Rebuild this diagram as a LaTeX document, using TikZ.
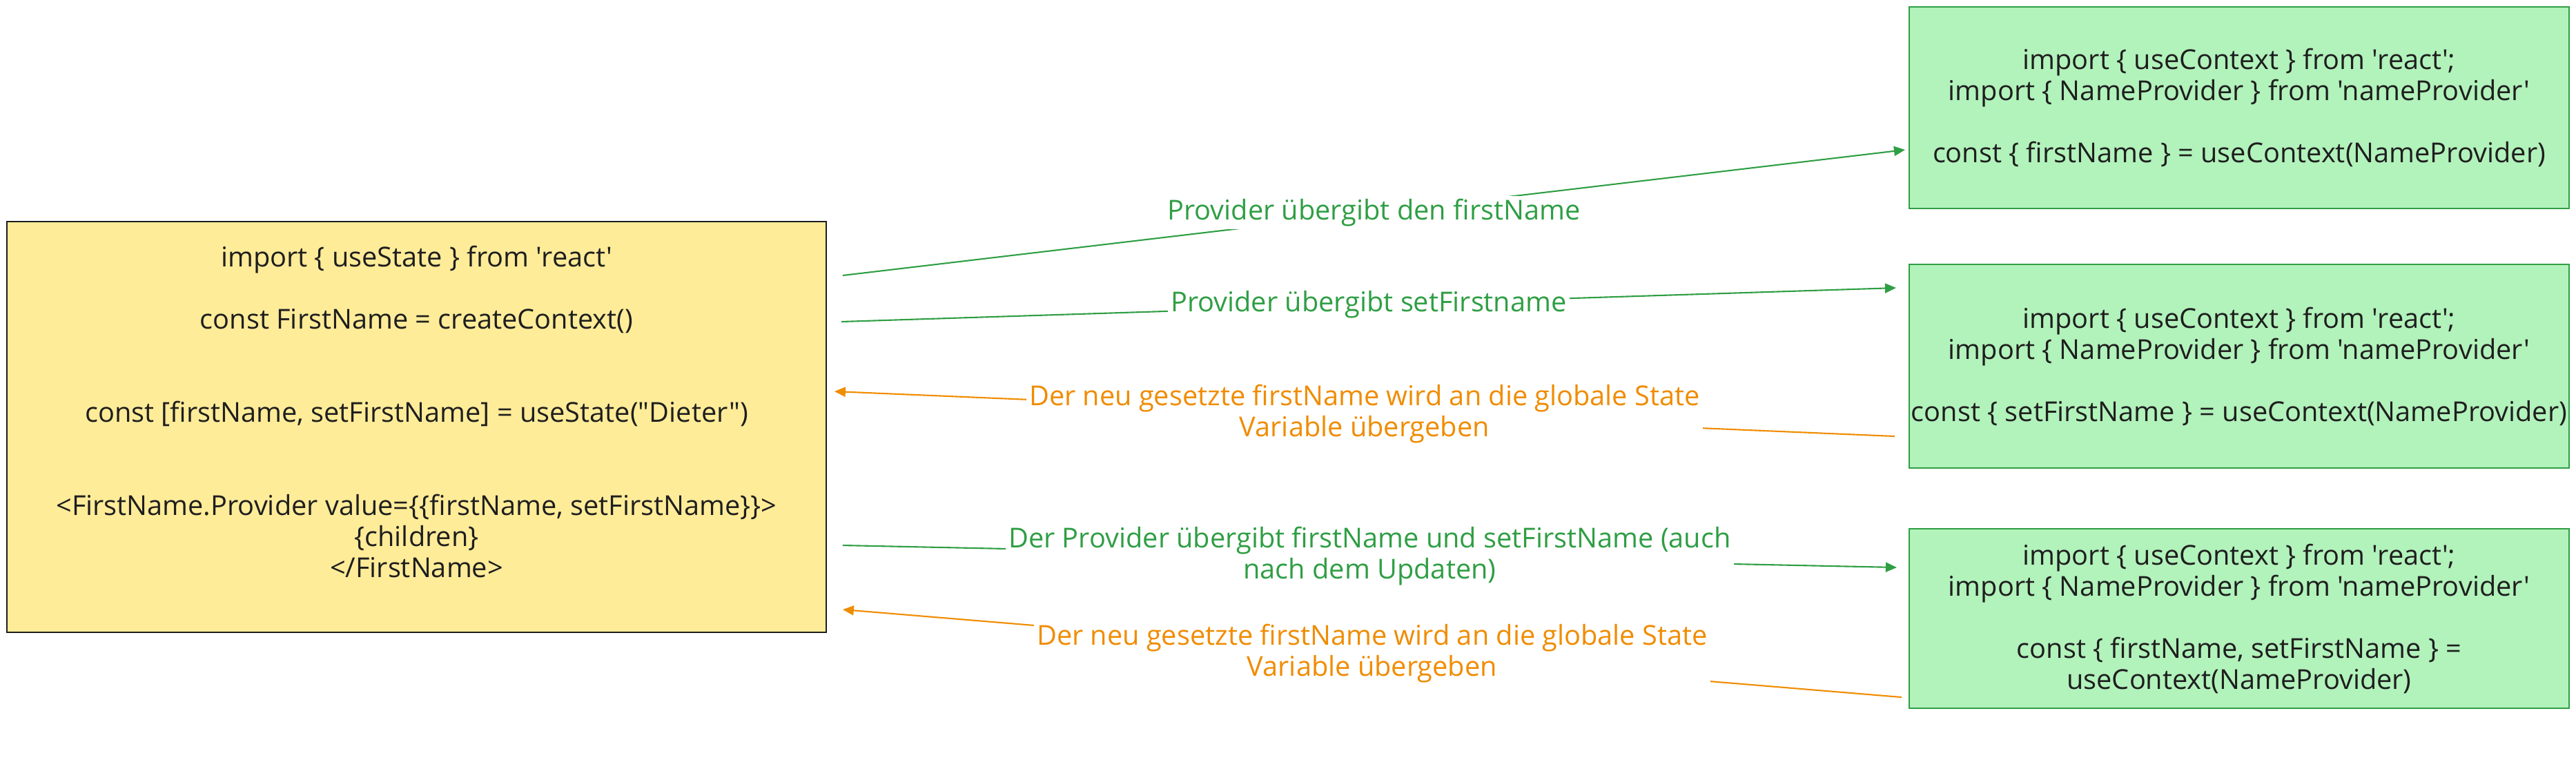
\documentclass[tikz,border=0pt]{standalone}
\usepackage{fontspec}
\newfontfamily\sketchfont{Open Sans}
\usetikzlibrary{arrows.meta}
\definecolor{stateyellow}{HTML}{FFEC99}
\definecolor{contextgreen}{HTML}{B2F2BB}
\definecolor{greenline}{HTML}{2F9E44}
\definecolor{orangeline}{HTML}{F08C00}
\definecolor{inkblack}{HTML}{1E1E1E}

\begin{document}
\begin{tikzpicture}[
  codefont/.style={font=\sketchfont\fontsize{11.3pt}{12.8pt}\selectfont},
  statebox/.style={draw=inkblack, line width=0.5pt, fill=stateyellow, codefont, text=inkblack,
    align=center, inner sep=0pt, minimum width=11.87cm, minimum height=5.95cm},
  ctxbox/.style={draw=greenline, line width=0.6pt, fill=contextgreen, codefont, text=inkblack,
    align=center, inner sep=0pt, minimum width=9.56cm},
  flowarrow/.style={line width=0.6pt, -{Triangle[length=0.16cm,width=0.14cm]}},
  flowlabel/.style={codefont, fill=white, align=center, inner sep=0.04cm}
]
  \useasboundingbox (0,0) rectangle (37.32,-11.13);

  % Provider with the global state
  \node[statebox] (state) at (6.035,-6.185) {%
    import \{ useState \} from 'react'\\ \mbox{}\\
    const FirstName = createContext()\\ \mbox{}\\ \mbox{}\\
    const [firstName, setFirstName] = useState("Dieter")\\ \mbox{}\\ \mbox{}\\
    <FirstName.Provider value=\{\{firstName, setFirstName\}\}>\\
    \{children\}\\
    </FirstName>\\ \mbox{}};

  % Consumers of the context
  \node[ctxbox, minimum height=2.92cm] (ctxa) at (32.44,-1.56) {%
    import \{ useContext \} from 'react';\\
    import \{ NameProvider \} from 'nameProvider'\\ \mbox{}\\
    const \{ firstName \} = useContext(NameProvider)};
  \node[ctxbox, minimum height=2.95cm] (ctxb) at (32.44,-5.305) {%
    import \{ useContext \} from 'react';\\
    import \{ NameProvider \} from 'nameProvider'\\ \mbox{}\\
    const \{ setFirstName \} = useContext(NameProvider)};
  \node[ctxbox, minimum height=2.60cm] (ctxc) at (32.44,-8.96) {%
    import \{ useContext \} from 'react';\\
    import \{ NameProvider \} from 'nameProvider'\\ \mbox{}\\
    const \{ firstName, setFirstName \} =\\
    useContext(NameProvider)};

  % Data flow between provider and consumers
  \draw[flowarrow, greenline] ([xshift=0.23cm,yshift=2.195cm]state.east)
    -- node[flowlabel, text=greenline] {Provider übergibt den firstName}
    ([xshift=-0.05cm,yshift=-0.61cm]ctxa.west);
  \draw[flowarrow, greenline] ([xshift=0.21cm,yshift=1.525cm]state.east)
    -- node[flowlabel, text=greenline] {Provider übergibt setFirstname}
    ([xshift=-0.18cm,yshift=1.135cm]ctxb.west);
  \draw[flowarrow, orangeline] ([xshift=-0.20cm,yshift=-1.015cm]ctxb.west)
    -- node[flowlabel, text=orangeline] {Der neu gesetzte firstName wird an die globale State\\ Variable übergeben}
    ([xshift=0.11cm,yshift=0.515cm]state.east);
  \draw[flowarrow, greenline] ([xshift=0.23cm,yshift=-1.715cm]state.east)
    -- node[flowlabel, text=greenline] {Der Provider übergibt firstName und setFirstName (auch\\ nach dem Updaten)}
    ([xshift=-0.17cm,yshift=0.74cm]ctxc.west);
  \draw[flowarrow, orangeline] ([xshift=-0.10cm,yshift=-1.14cm]ctxc.west)
    -- node[flowlabel, text=orangeline] {Der neu gesetzte firstName wird an die globale State\\ Variable übergeben}
    ([xshift=0.23cm,yshift=-2.645cm]state.east);
\end{tikzpicture}
\end{document}
